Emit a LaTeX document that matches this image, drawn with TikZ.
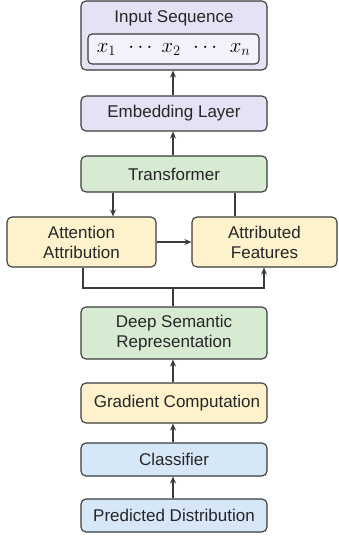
\documentclass[tikz,border=0pt]{standalone}
\usepackage{fontspec}
\setmainfont{Liberation Sans}
\usetikzlibrary{arrows.meta}
\definecolor{cpurple}{HTML}{E6E1F5}
\definecolor{cpurplein}{HTML}{F4F1FB}
\definecolor{cgreen}{HTML}{D7EBD3}
\definecolor{cyellow}{HTML}{FDF2CC}
\definecolor{cblue}{HTML}{D6E7F8}
\definecolor{cline}{HTML}{3A3A3A}
\begin{document}
\begin{tikzpicture}[x=1pt,y=1pt,
  box/.style={draw=cline, line width=1.1pt, rounded corners=5pt, inner sep=0pt,
    align=center, font=\fontsize{17}{20}\selectfont, text=black!85},
  wide/.style={box, minimum width=186pt},
  conn/.style={draw=cline, line width=1.1pt},
  arr/.style={conn, -{Stealth[length=7pt,width=6pt]}}
]
\useasboundingbox (0,0) rectangle (339,-536);
% nodes
\node[wide, fill=cpurple, minimum height=69pt] (input) at (174,-35.5) {};
\node[anchor=center, font=\fontsize{17}{20}\selectfont, text=black!85] (inlabel) at (174,-18) {Input Sequence};
\node[draw=cline, line width=1.1pt, rounded corners=4pt, fill=cpurplein, minimum width=171pt, minimum height=30pt, inner sep=0pt, font=\fontsize{20}{22}\selectfont] (seq) at (173.5,-49) {$x_1\ \,\cdots\ x_2\ \,\cdots\ \,x_n$};
\node[wide, fill=cpurple, minimum height=35pt] (embed) at (174,-113.5) {Embedding Layer};
\node[wide, fill=cgreen, minimum height=36pt] (trans) at (174,-174) {Transformer};
\node[box, fill=cyellow, minimum width=149pt, minimum height=50pt] (attn) at (81.5,-242) {Attention\\Attribution};
\node[box, fill=cyellow, minimum width=145pt, minimum height=50pt] (feat) at (264.5,-242) {Attributed\\Features};
\node[wide, fill=cgreen, minimum height=52pt] (deep) at (174,-333) {Deep Semantic\\Representation};
\node[wide, fill=cyellow, minimum height=40pt] (grad) at (174,-403) {\hspace{6pt}Gradient Computation};
\node[wide, fill=cblue, minimum height=33pt] (cls) at (174,-459.5) {Classifier};
\node[wide, fill=cblue, minimum height=33pt] (pred) at (174,-515.5) {Predicted Distribution};
\coordinate (junc) at (173,-288);
% connectors
\draw[arr] (embed.north -| 173,0) -- (input.south -| 173,0);
\draw[arr] (trans.north -| 173,0) -- (embed.south -| 173,0);
\draw[arr] (trans.south -| 113,0) -- (attn.north -| 113,0);
\draw[conn] (feat.north -| 235,0) -- (trans.south -| 235,0);
\draw[arr] (attn.east) -- (feat.west);
\draw[arr] (attn.south -| 83,0) |- (junc) -| (feat.south -| 264,0);
\draw[conn] (deep.north -| 173,0) -- (junc);
\draw[arr] (grad.north -| 173,0) -- (deep.south -| 173,0);
\draw[arr] (cls.north -| 173,0) -- (grad.south -| 173,0);
\draw[arr] (pred.north -| 173,0) -- (cls.south -| 173,0);
\end{tikzpicture}
\end{document}
